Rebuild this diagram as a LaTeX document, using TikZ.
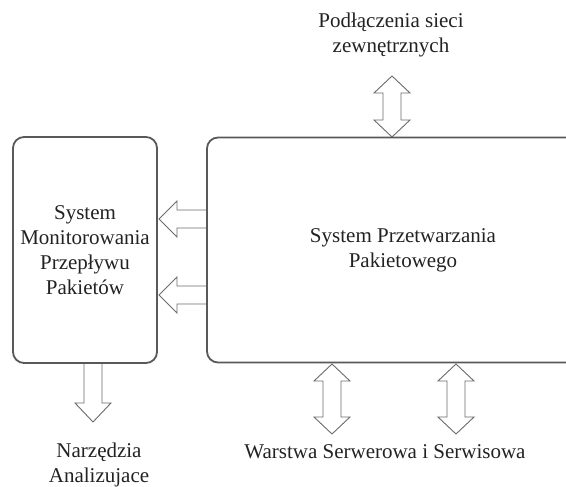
\documentclass[tikz,border=0pt]{standalone}
\usepackage{fontspec}
\setmainfont{Liberation Serif}
\newfontfamily\szeryf{Liberation Serif}
\usetikzlibrary{positioning}

\definecolor{ramka}{HTML}{595959}
\definecolor{strzalka}{HTML}{6B6B6B}
\definecolor{tekst}{HTML}{222222}

\tikzset{
  blok/.style={draw=ramka, line width=1.8pt, rounded corners=11pt, inner sep=0pt},
  strz/.style={draw=strzalka, line width=0.9pt, line join=miter, fill=white},
  opis/.style={text=tekst, font=\szeryf\fontsize{21}{25}\selectfont, align=center, inner sep=0pt},
}

\begin{document}
\begin{tikzpicture}[x=1pt, y=-1pt]
    \useasboundingbox (0,0) rectangle (566,487);
    \clip (0,0) rectangle (566,487);

    % strzalki dwukierunkowe (x, gora, dol)
    \foreach \x/\ya/\yb in {392/76/137, 332/364/434, 456/364/434}{
        \draw [strz] (\x,\ya) -- ++(18,17) -- ++(-9,0) -- (\x+9,\yb-17) -- ++(9,0)
            -- (\x,\yb) -- ++(-18,-17) -- ++(9,0) -- (\x-9,\ya+17) -- ++(-9,0) -- cycle;
    }

    % strzalki w lewo
    \foreach \y in {219, 295}{
        \draw [strz] (159,\y) -- ++(18,-18) -- ++(0,9) -- (207,\y-9) -- (207,\y+9)
            -- (177,\y+9) -- ++(0,9) -- cycle;
    }

    % strzalka w dol
    \draw [strz] (84,363) -- (84,403) -- (75,403) -- (93,422) -- (111,403)
        -- (102,403) -- (102,363) -- cycle;

    % bloki
    \node [blok, minimum width=144pt, minimum height=226pt, opis] (monitor) at (85,250)
        {System\\Monitorowania\\Przepływu\\Pakietów};
    \node [blok, minimum width=392pt, minimum height=225pt, opis] (przetw) at (403,250)
        {System Przetwarzania\\Pakietowego};

    % opisy
    \node [opis] (siec) at (391,35) {Podłączenia sieci\\zewnętrznych};
    \node [opis] (narz) at (99,465) {Narzędzia\\Analizujace};
    \node [opis] (warstwa) at (385,452) {Warstwa Serwerowa i Serwisowa};

\end{tikzpicture}
\end{document}
